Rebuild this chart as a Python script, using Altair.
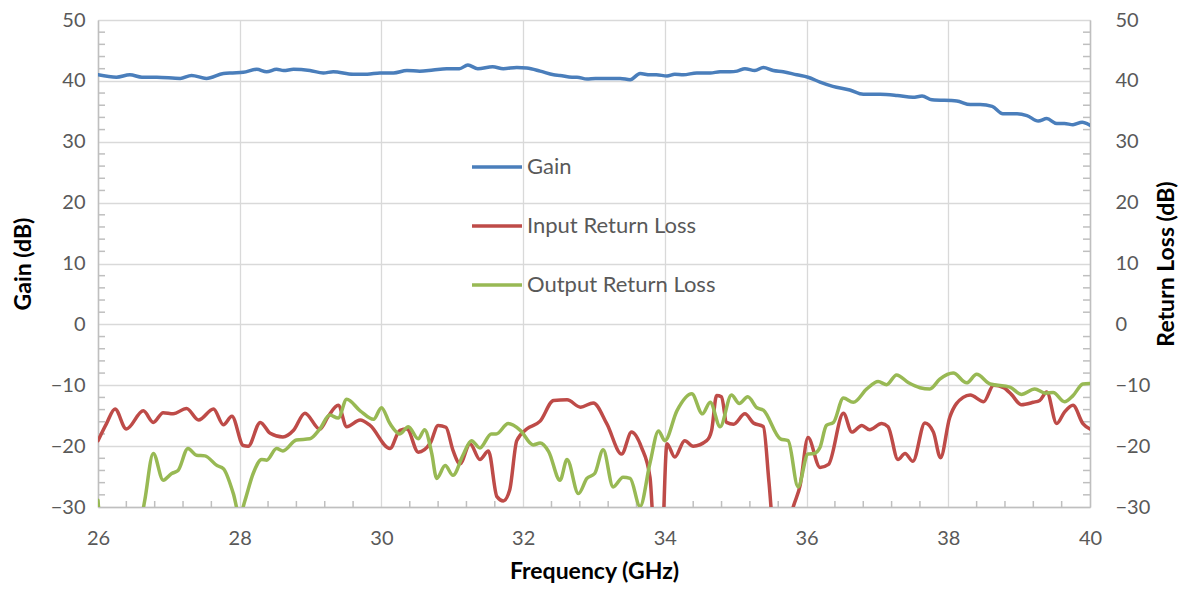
import altair as alt
import pandas as pd

SERIES = ["Gain", "Input Return Loss", "Output Return Loss"]
COLORS = ["#4A7EBB", "#BE4B48", "#98B954"]

gain_f = [26.0, 26.26, 26.45, 26.62, 26.83, 27.16, 27.32, 27.53, 27.77, 27.9, 28.05, 28.24, 28.38, 28.52,
          28.62, 28.76, 28.99, 29.18, 29.32, 29.6, 29.8, 29.98, 30.17, 30.36, 30.54, 30.73, 30.92, 31.1,
          31.22, 31.36, 31.57, 31.72, 31.91, 32.05, 32.24, 32.43, 32.52, 32.69, 32.76, 32.9, 33.02, 33.2,
          33.37, 33.51, 33.65, 33.79, 33.88, 34.03, 34.14, 34.26, 34.45, 34.64, 34.78, 34.92, 35.02, 35.13,
          35.27, 35.39, 35.53, 35.67, 35.86, 36.02, 36.19, 36.37, 36.61, 36.8, 37.04, 37.28, 37.5, 37.63,
          37.77, 38.12, 38.31, 38.45, 38.62, 38.77, 38.97, 39.11, 39.27, 39.39, 39.53, 39.64, 39.76, 39.89, 40.0]
gain_db = [41.0, 40.6, 41.0, 40.6, 40.6, 40.4, 40.9, 40.4, 41.2, 41.3, 41.4, 41.9, 41.5, 41.9,
           41.7, 41.9, 41.7, 41.3, 41.5, 41.1, 41.1, 41.3, 41.3, 41.7, 41.6, 41.8, 42.0, 42.0,
           42.6, 42.0, 42.3, 42.0, 42.2, 42.1, 41.6, 41.0, 40.9, 40.6, 40.6, 40.3, 40.4, 40.4,
           40.4, 40.2, 41.2, 41.0, 41.0, 40.8, 41.1, 41.0, 41.3, 41.3, 41.5, 41.5, 41.6, 42.0,
           41.7, 42.2, 41.7, 41.5, 41.0, 40.6, 39.8, 39.1, 38.5, 37.8, 37.8, 37.6, 37.3, 37.5,
           36.9, 36.7, 36.1, 36.1, 35.8, 34.6, 34.6, 34.3, 33.4, 33.8, 33.0, 33.0, 32.8, 33.2, 32.7]

irl_f = [26.0, 26.12, 26.24, 26.4, 26.64, 26.78, 26.92, 27.06, 27.25, 27.42, 27.63, 27.77, 27.89, 28.05,
         28.12, 28.29, 28.43, 28.61, 28.76, 28.92, 29.13, 29.25, 29.39, 29.51, 29.7, 29.84, 30.12, 30.26,
         30.36, 30.52, 30.69, 30.8, 30.91, 31.01, 31.11, 31.25, 31.39, 31.51, 31.63, 31.72, 31.81, 31.91,
         32.05, 32.24, 32.43, 32.62, 32.81, 32.99, 33.18, 33.39, 33.53, 33.67, 33.79, 33.87, 33.95, 34.03,
         34.14, 34.28, 34.4, 34.59, 34.66, 34.73, 34.8, 34.87, 34.97, 35.13, 35.25, 35.39, 35.47, 35.55,
         35.68, 35.8, 35.91, 36.02, 36.19, 36.31, 36.52, 36.64, 36.78, 36.89, 37.06, 37.15, 37.29, 37.39,
         37.5, 37.67, 37.79, 37.89, 38.02, 38.21, 38.31, 38.5, 38.64, 38.78, 38.89, 39.03, 39.2, 39.29,
         39.39, 39.53, 39.64, 39.76, 39.9, 40.0]
irl_db = [-19.1, -16.3, -13.9, -17.2, -14.2, -16.1, -14.5, -14.7, -13.8, -15.7, -13.9, -16.5, -15.1, -19.9,
          -20.0, -16.1, -17.9, -18.5, -17.4, -14.6, -17.2, -15.1, -13.3, -16.8, -15.7, -16.6, -20.4, -17.4,
          -17.2, -21.0, -19.5, -16.6, -16.9, -20.7, -22.9, -19.6, -22.2, -20.8, -28.3, -29.0, -27.2, -19.1,
          -17.2, -15.9, -12.5, -12.4, -13.6, -12.9, -16.3, -21.3, -17.7, -20.2, -25.1, -38.0, -38.0, -19.6,
          -21.8, -19.1, -20.0, -19.1, -17.4, -11.7, -11.9, -16.1, -16.4, -14.7, -16.2, -16.8, -26.0, -36.0,
          -38.0, -30.5, -26.4, -18.6, -23.5, -23.0, -14.6, -17.7, -16.6, -17.3, -16.3, -16.8, -22.2, -21.2,
          -22.5, -16.2, -17.7, -21.9, -15.3, -12.0, -11.6, -12.7, -10.0, -10.4, -11.5, -13.2, -12.8, -12.5,
          -11.1, -16.3, -14.4, -13.3, -16.3, -17.2]

orl_f = [26.0, 26.04, 26.3, 26.58, 26.66, 26.78, 26.92, 27.04, 27.13, 27.27, 27.39, 27.51, 27.68, 27.77,
         27.91, 28.0, 28.07, 28.19, 28.31, 28.38, 28.52, 28.61, 28.8, 28.99, 29.13, 29.27, 29.39, 29.51,
         29.7, 29.89, 30.0, 30.12, 30.26, 30.38, 30.52, 30.61, 30.71, 30.78, 30.9, 31.01, 31.15, 31.27,
         31.39, 31.55, 31.62, 31.79, 31.96, 32.14, 32.24, 32.36, 32.52, 32.62, 32.78, 32.9, 33.01, 33.13,
         33.27, 33.41, 33.51, 33.65, 33.79, 33.91, 34.0, 34.17, 34.38, 34.53, 34.64, 34.78, 34.94, 35.05,
         35.17, 35.3, 35.39, 35.63, 35.74, 35.88, 36.02, 36.11, 36.19, 36.28, 36.38, 36.52, 36.66, 36.85,
         37.01, 37.13, 37.27, 37.44, 37.6, 37.74, 37.88, 38.07, 38.26, 38.4, 38.59, 38.87, 39.03, 39.22,
         39.37, 39.48, 39.64, 39.76, 39.9, 40.0]
orl_db = [-28.9, -34.0, -42.0, -34.0, -28.9, -21.2, -25.6, -24.5, -24.0, -20.4, -21.5, -21.6, -23.2, -23.7,
          -27.8, -31.5, -29.1, -24.5, -22.2, -22.3, -20.4, -20.8, -19.0, -18.8, -17.2, -14.9, -15.4, -12.3,
          -14.2, -15.6, -13.7, -16.3, -18.0, -16.8, -18.8, -17.3, -21.2, -25.3, -23.2, -24.8, -21.5, -19.1,
          -20.3, -18.0, -18.0, -16.3, -17.4, -19.8, -19.5, -20.9, -25.6, -22.2, -27.8, -25.3, -24.5, -20.6,
          -26.7, -25.1, -25.3, -29.9, -22.8, -17.5, -19.1, -14.2, -11.4, -14.7, -12.8, -16.8, -11.6, -13.0,
          -11.9, -13.7, -14.1, -18.8, -19.1, -26.7, -21.3, -21.2, -20.2, -16.6, -16.1, -12.1, -12.8, -10.6,
          -9.4, -9.9, -8.3, -9.6, -10.4, -10.6, -9.0, -8.0, -9.6, -8.2, -9.8, -10.3, -11.5, -10.6,
          -11.3, -11.2, -12.7, -11.7, -9.8, -9.7]

x_ticks = [26, 28, 30, 32, 34, 36, 38, 40]
y_ticks = [-30, -20, -10, 0, 10, 20, 30, 40, 50]
x_minor = [26.4, 26.8, 27.2, 27.6, 28.4, 28.8, 29.2, 29.6, 30.4, 30.8, 31.2, 31.6, 32.4, 32.8, 33.2, 33.6,
           34.4, 34.8, 35.2, 35.6, 36.4, 36.8, 37.2, 37.6, 38.4, 38.8, 39.2, 39.6]
y_minor = [-28, -26, -24, -22, -18, -16, -14, -12, -8, -6, -4, -2, 2, 4, 6, 8, 12, 14, 16, 18,
           22, 24, 26, 28, 32, 34, 36, 38, 42, 44, 46, 48]

W, H = 992, 487
FONT = "Lato"
LABEL_C = "#595959"
GRID_C = "#D9D9D9"
LBL = 20
TTL = 23

gain_df = pd.DataFrame({"f": gain_f, "v": gain_db, "s": SERIES[0]})
rl_df = pd.concat([
    pd.DataFrame({"f": irl_f, "v": irl_db, "s": SERIES[1]}),
    pd.DataFrame({"f": orl_f, "v": orl_db, "s": SERIES[2]}),
])
xm_df = pd.DataFrame({"f": x_minor})
ym_df = pd.DataFrame({"v": y_minor})

xscale = alt.Scale(domain=[26, 40], nice=False, zero=False)
yscale = alt.Scale(domain=[-30, 50], nice=False, zero=False)

x_axis = alt.Axis(
    values=x_ticks, grid=True, gridColor=GRID_C, gridWidth=1.3, domainColor="#BFBFBF", domainWidth=1.5,
    ticks=False, labelFontSize=LBL, labelColor=LABEL_C, labelFont=FONT, labelPadding=21, labelFlush=False,
    title="Frequency (GHz)", titleFontSize=TTL, titleFont=FONT, titleFontWeight="bold",
    titleColor="#000000", titlePadding=12)
x_enc = alt.X("f:Q", scale=xscale, axis=x_axis)

color_scale = alt.Scale(domain=SERIES, range=COLORS)
color_enc = alt.Color("s:N", scale=color_scale, sort=SERIES,
                      legend=alt.Legend(orient="none", legendX=372, legendY=120, title=None,
                                        symbolType="stroke", symbolSize=2500, symbolStrokeWidth=3.5,
                                        labelFontSize=22, labelFont=FONT, labelColor=LABEL_C,
                                        labelLimit=0, labelOffset=3, rowPadding=21, padding=0))

tick_style = dict(color="#BFBFBF", strokeWidth=1.5)
left_ticks = alt.Chart(ym_df).mark_rule(**tick_style).encode(
    y=alt.Y("v:Q", scale=yscale, axis=None), x=alt.value(0), x2=alt.value(7))
right_ticks = alt.Chart(ym_df).mark_rule(**tick_style).encode(
    y=alt.Y("v:Q", scale=yscale, axis=None), x=alt.value(W - 7), x2=alt.value(W))
bottom_ticks = alt.Chart(xm_df).mark_rule(**tick_style).encode(
    x=x_enc, y=alt.value(H - 6), y2=alt.value(H))

gain = alt.Chart(gain_df).mark_line(interpolate="monotone", strokeWidth=3.5, clip=True, strokeCap="round").encode(
    x=x_enc,
    y=alt.Y("v:Q", scale=yscale, axis=alt.Axis(
        values=y_ticks, grid=True, gridColor=GRID_C, gridWidth=1.3, domainColor="#BFBFBF", domainWidth=1.5,
        ticks=False, labelFontSize=LBL, labelColor=LABEL_C, labelFont=FONT, labelPadding=13,
        title="Gain (dB)", titleFontSize=TTL, titleFont=FONT, titleFontWeight="bold",
        titleColor="#000000", titlePadding=15)),
    color=color_enc,
)

rl = alt.Chart(rl_df).mark_line(interpolate="monotone", strokeWidth=3.5, clip=True, strokeCap="round").encode(
    x=x_enc,
    y=alt.Y("v:Q", scale=yscale, axis=alt.Axis(
        orient="right", values=y_ticks, grid=False, domainColor="#BFBFBF", domainWidth=1.5,
        ticks=False, labelFontSize=LBL, labelColor=LABEL_C, labelFont=FONT, labelPadding=25,
        labelAlign="left",
        title="Return Loss (dB)", titleFontSize=TTL, titleFont=FONT, titleFontWeight="bold",
        titleColor="#000000", titleAngle=270, titlePadding=29)),
    color=alt.Color("s:N", scale=color_scale, sort=SERIES, legend=None),
    detail="s:N",
)

chart = alt.layer(bottom_ticks, left_ticks, right_ticks, gain, rl).resolve_scale(
    y="independent"
).properties(
    width=W, height=H,
    autosize=alt.AutoSizeParams(type="none"),
    padding={"left": 90, "top": 12, "right": 89, "bottom": 79},
).configure_view(stroke=None).configure(background="white")

chart.save("out.html", embed_options={"renderer": "svg", "actions": False})
